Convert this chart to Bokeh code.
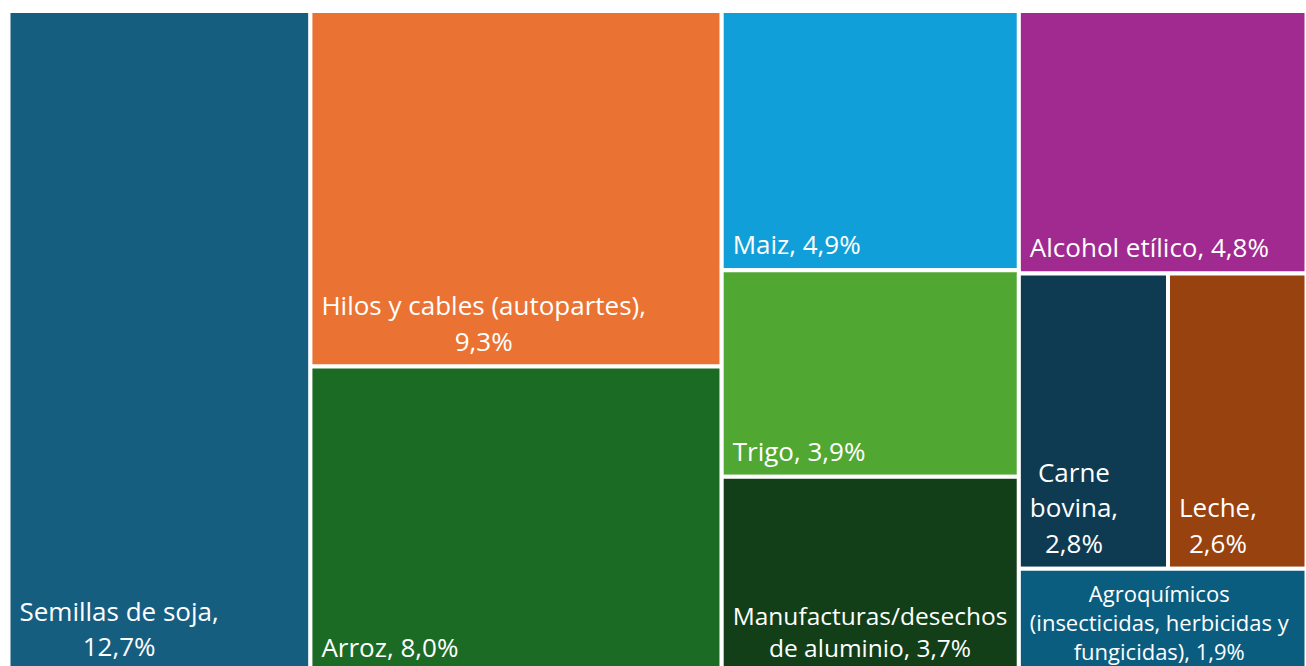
from bokeh.plotting import figure
from bokeh.models import ColumnDataSource, Range1d
from bokeh.core.properties import value
from bokeh.embed import file_html
from bokeh.resources import INLINE

# ---- data ----
names = [
    "Semillas de soja",
    "Hilos y cables (autopartes)",
    "Arroz",
    "Maiz",
    "Alcohol etílico",
    "Trigo",
    "Manufacturas/desechos\nde aluminio",
    "Carne\nbovina",
    "Leche",
    "Agroquímicos\n(insecticidas, herbicidas y\nfungicidas)",
]
values = [12.7, 9.3, 8.0, 4.9, 4.8, 3.9, 3.7, 2.8, 2.6, 1.9]
seps = [",\n", ",\n", ", ", ", ", ", ", ", ", ", ", ",\n", ",\n", ", "]
colors = ["#165E80", "#EA7334", "#1C6B25", "#109FD8", "#A12A90",
          "#50A732", "#123F18", "#0E3A52", "#97420F", "#0B5D7F"]
font_sizes = ["26px"] * 6 + ["24.5px"] + ["26px"] * 2 + ["22px"]
label_dy = [-8] * 9 + [-6]

# treemap structure: columns of rows of item indices
layout_cols = [
    [[0]],
    [[1], [2]],
    [[3], [5], [6]],
    [[4], [7, 8], [9]],
]

total = sum(values)
slots = [None] * len(values)
x0 = 0.0
for col in layout_cols:
    col_sum = sum(values[i] for row in col for i in row)
    w = col_sum  # width in value units (height normalised to 1)
    y1 = 1.0
    for row in col:
        row_sum = sum(values[i] for i in row)
        h = row_sum / col_sum
        xx = x0
        for i in row:
            ww = values[i] / row_sum * w
            slots[i] = (xx, xx + ww, y1 - h, y1)
            xx += ww
        y1 -= h
    x0 += w

left = [s[0] for s in slots]
right = [s[1] for s in slots]
bottom = [s[2] for s in slots]
top = [s[3] for s in slots]

labels = [n + s + ("%.1f" % v).replace(".", ",") + "%" for n, s, v in zip(names, seps, values)]

src = ColumnDataSource(dict(left=left, right=right, bottom=bottom, top=top,
                            color=colors, label=labels, fs=font_sizes, dy=label_dy))

W, H = 1306, 666
# chart occupies x 8..1306 px, y 10.5..672 px (bottom slightly cropped by the window)
chart_w = 1298.0
chart_h = 661.5
x_start = -8.0 / chart_w * total
y_start = (672.0 - H) / chart_h
y_end = 1.0 + 10.5 / chart_h

p = figure(width=W, height=H, output_backend="svg", toolbar_location=None,
           x_range=Range1d(x_start, total), y_range=Range1d(y_start, y_end),
           min_border=0, outline_line_color=None, background_fill_color="white",
           border_fill_color="white")
p.axis.visible = False
p.grid.visible = False

p.quad(left="left", right="right", bottom="bottom", top="top", source=src,
       fill_color="color", line_color="white", line_width=4)

p.text(x="left", y="bottom", text="label", source=src,
       text_color="white", text_font=value("Open Sans"), text_font_size="fs",
       text_align="center", anchor="bottom_left", text_line_height=0.98,
       x_offset=11, y_offset="dy")

open("out.html", "w").write(file_html(p, INLINE))
